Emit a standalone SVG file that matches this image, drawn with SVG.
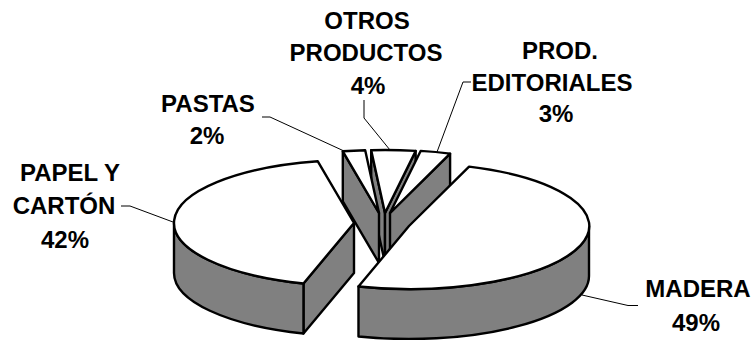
<svg xmlns="http://www.w3.org/2000/svg" width="756" height="340" viewBox="0 0 756 340">
<style>
.top{fill:#ffffff;stroke:#000;stroke-width:2.4;stroke-linejoin:round}
.wall{fill:#808080;stroke:#000;stroke-width:2.4;stroke-linejoin:round}
.lbl{font-family:"Liberation Sans",Arial,sans-serif;font-weight:bold;font-size:24px;fill:#000;text-anchor:middle}
.lead{fill:none;stroke:#000;stroke-width:1}
</style>
<rect width="756" height="340" fill="#fff"/>
<g id="otros">
<path class="wall" d="M371.19,150.19 L385,213 L385,263 L371.19,200.19 Z"/>
<path class="wall" d="M415.64,150.92 L385,213 L385,263 L415.64,200.92 Z"/>
<path class="top" d="M385,213 L371.19,150.19 A180 63 0 0 1 415.64,150.92 Z"/>
<text class="lbl" x="367" y="29">OTROS</text>
<text class="lbl" x="366" y="61">PRODUCTOS</text>
<text class="lbl" x="368" y="94">4%</text>
</g>
<g id="pastas">
<path class="wall" d="M342.81,151.29 L379,213 L379,263 L342.81,201.29 Z"/>
<path class="top" d="M379,213 L342.81,151.29 A180 63 0 0 1 365.19,150.19 Z"/>
<text class="lbl" x="208" y="112">PASTAS</text>
<text class="lbl" x="207" y="144">2%</text>
</g>
<g id="prod">
<path class="wall" d="M450.09,153.61 L390,213 L390,263 L450.09,203.61 Z"/>
<path class="top" d="M390,213 L420.64,150.92 A180 63 0 0 1 450.09,153.61 Z"/>
<text class="lbl" x="560" y="59">PROD.</text>
<text class="lbl" x="552" y="91">EDITORIALES</text>
<text class="lbl" x="556" y="122">3%</text>
</g>
<g id="papel">
<path class="wall" d="M354,223 L303.48,283.47 L303.48,333.47 L354,273 Z"/>
<path class="wall" d="M303.48,283.47 A180 63 0 0 1 174,223 L174,273 A180 63 0 0 0 303.48,333.47 Z"/>
<path class="top" d="M354,223 L303.48,283.47 A180 63 0 0 1 317.81,161.29 Z"/>
<text class="lbl" x="70" y="181">PAPEL Y</text>
<text class="lbl" x="64" y="214">CARTÓN</text>
<text class="lbl" x="65" y="248">42%</text>
</g>
<g id="madera">
<path class="wall" d="M589,226 A180 63 0 0 1 358.48,286.47 L358.48,336.47 A180 63 0 0 0 589,276 Z"/>
<path class="top" d="M409,226 L469.09,166.61 A180 63 0 0 1 358.48,286.47 Z"/>
<text class="lbl" x="698" y="297">MADERA</text>
<text class="lbl" x="696" y="331">49%</text>
</g>
<g id="connectors">
<path class="lead" d="M262,117 L270,117 L344,151"/>
<path class="lead" d="M364,100 L364,118 L390,150"/>
<path class="lead" d="M471,82 L463,82 L437,152"/>
<path class="lead" d="M121,206 L130,206 L173,222"/>
<path class="lead" d="M582,295 L628,305.5 L638,305.5"/>
</g>
</svg>
